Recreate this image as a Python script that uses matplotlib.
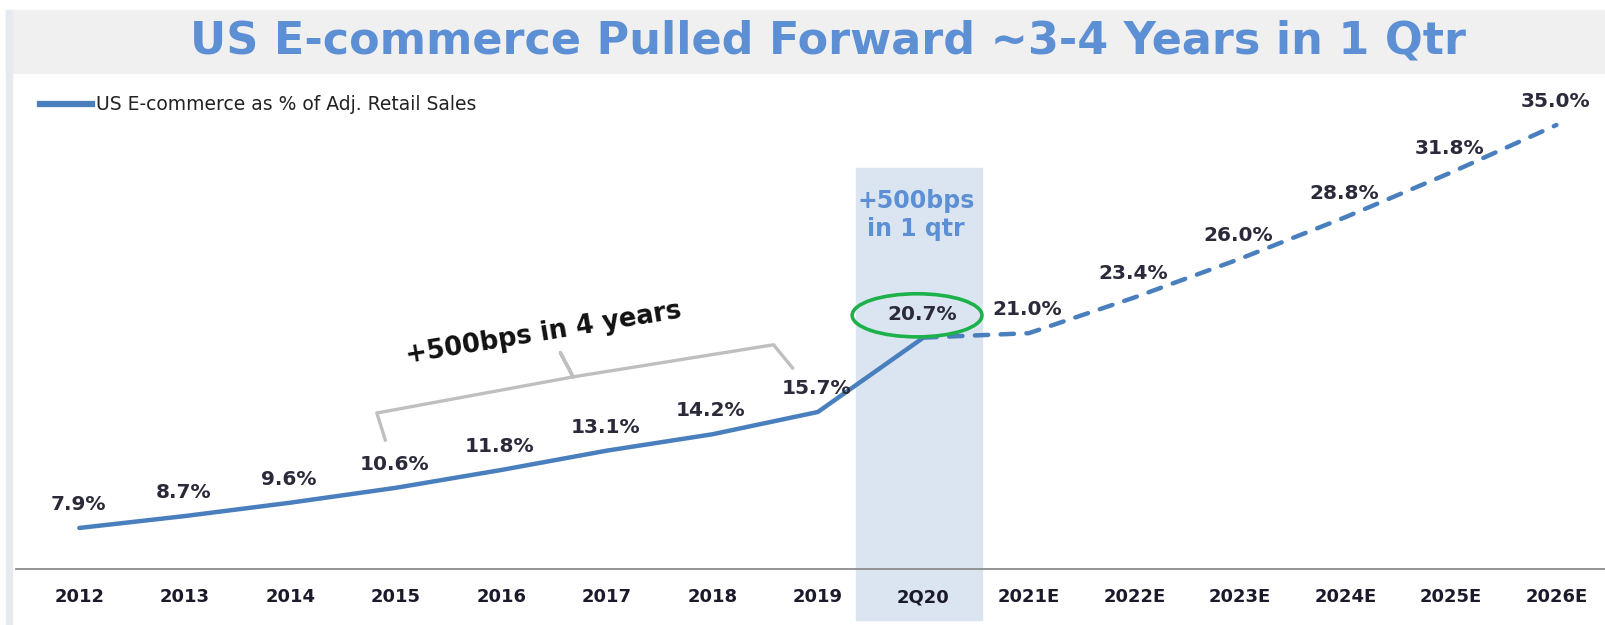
import matplotlib.pyplot as plt
import matplotlib.patches as mpatches
from matplotlib.lines import Line2D
import numpy as np

plt.rcParams['font.family'] = ['DejaVu Sans']

# data
periods = ['2012', '2013', '2014', '2015', '2016', '2017', '2018', '2019', '2Q20',
           '2021E', '2022E', '2023E', '2024E', '2025E', '2026E']
share = [7.9, 8.7, 9.6, 10.6, 11.8, 13.1, 14.2, 15.7, 20.7,
         21.0, 23.4, 26.0, 28.8, 31.8, 35.0]
last_actual = 8  # index of 2Q20, dashed from here on

blue = '#4a7fbd'
title_blue = '#5d8fd4'
x = np.arange(len(periods))

fig = plt.figure(figsize=(16.06, 6.25), dpi=100)
ax = fig.add_axes([16 / 1606, 1 - 569 / 625, 1 - 16 / 1606, (569 - 85) / 625])

# title band and left border
fig.patches.append(mpatches.Rectangle((6 / 1606, 1 - 73 / 625), 1, 63 / 625,
                                      transform=fig.transFigure, color='#f0f0f0', zorder=0))
fig.patches.append(mpatches.Rectangle((6 / 1606, 0), 6 / 1606, 1 - 10 / 625,
                                      transform=fig.transFigure, color='#e6eaef', zorder=0))
fig.text(0.5156, 0.934, 'US E-commerce Pulled Forward ~3-4 Years in 1 Qtr',
         fontsize=32, fontweight='bold', color=title_blue,
         ha='center', va='center')

# shaded 2Q20 column
ax.axvspan(7.36, 8.56, ymin=-0.105, ymax=0.8285, color='#dbe5f1', zorder=0, clip_on=False)

# line: solid actuals, dashed estimates
ax.plot(x[:last_actual + 1], share[:last_actual + 1], color=blue, lw=3.2,
        solid_capstyle='round', zorder=3)
ax.plot(x[last_actual:], share[last_actual:], color=blue, lw=3.2,
        dashes=(3.0, 2.8), dash_capstyle='round', zorder=3)

# data labels
for i, v in enumerate(share):
    ax.annotate(f'{v:.1f}%', (x[i], v), xytext=(-1, 17), textcoords='offset points',
                ha='center', va='center', fontsize=14.5, fontweight='bold',
                color='#2a2a3a', zorder=5)

# green circle on 2Q20
ax.add_patch(mpatches.Ellipse((7.94, 22.2), 1.23, 2.9, fill=False,
                              edgecolor='#1db14b', lw=2.6, zorder=4))
ax.text(7.93, 28.95, '+500bps\nin 1 qtr', ha='center', va='center', fontsize=17,
        fontweight='bold', color=title_blue, linespacing=1.25, zorder=5)

# bracket for 2015-2019
bx = [2.90, 2.82, 4.68, 4.56, 4.68, 6.58, 6.76]
by = [13.82, 15.63, 18.06, 19.68, 18.06, 20.22, 18.66]
ax.plot(bx, by, color='#bfbfbf', lw=2.4, solid_joinstyle='round', zorder=2)
ax.text(4.4, 21.0, '+500bps in 4 years', rotation=9.4, rotation_mode='anchor',
        ha='center', va='center', fontsize=18.5, fontweight='bold', color='#111111')

# axes
ax.set_xlim(-0.6, 14.47)
ax.set_ylim(5.14, 37.69)
ax.set_xticks(x)
ax.set_xticklabels(periods, fontsize=13, fontweight='bold', color='#1a1a2a')
ax.tick_params(axis='x', length=0, pad=14)
ax.set_yticks([])
for s in ['top', 'right', 'left']:
    ax.spines[s].set_visible(False)
ax.spines['bottom'].set_color('#8c8c8c')
ax.spines['bottom'].set_linewidth(1.3)
ax.patch.set_alpha(0)

handle = Line2D([], [], color=blue, lw=4.5)
ax.legend([handle], ['US E-commerce as % of Adj. Retail Sales'], loc='center left',
          bbox_to_anchor=(40 / 1606, 1 - 105 / 625), bbox_transform=fig.transFigure,
          frameon=False, borderpad=0, borderaxespad=0, handlelength=2.8,
          handletextpad=0.2, fontsize=13.5, labelcolor='#222222')

fig.savefig('out.png', dpi=100)
